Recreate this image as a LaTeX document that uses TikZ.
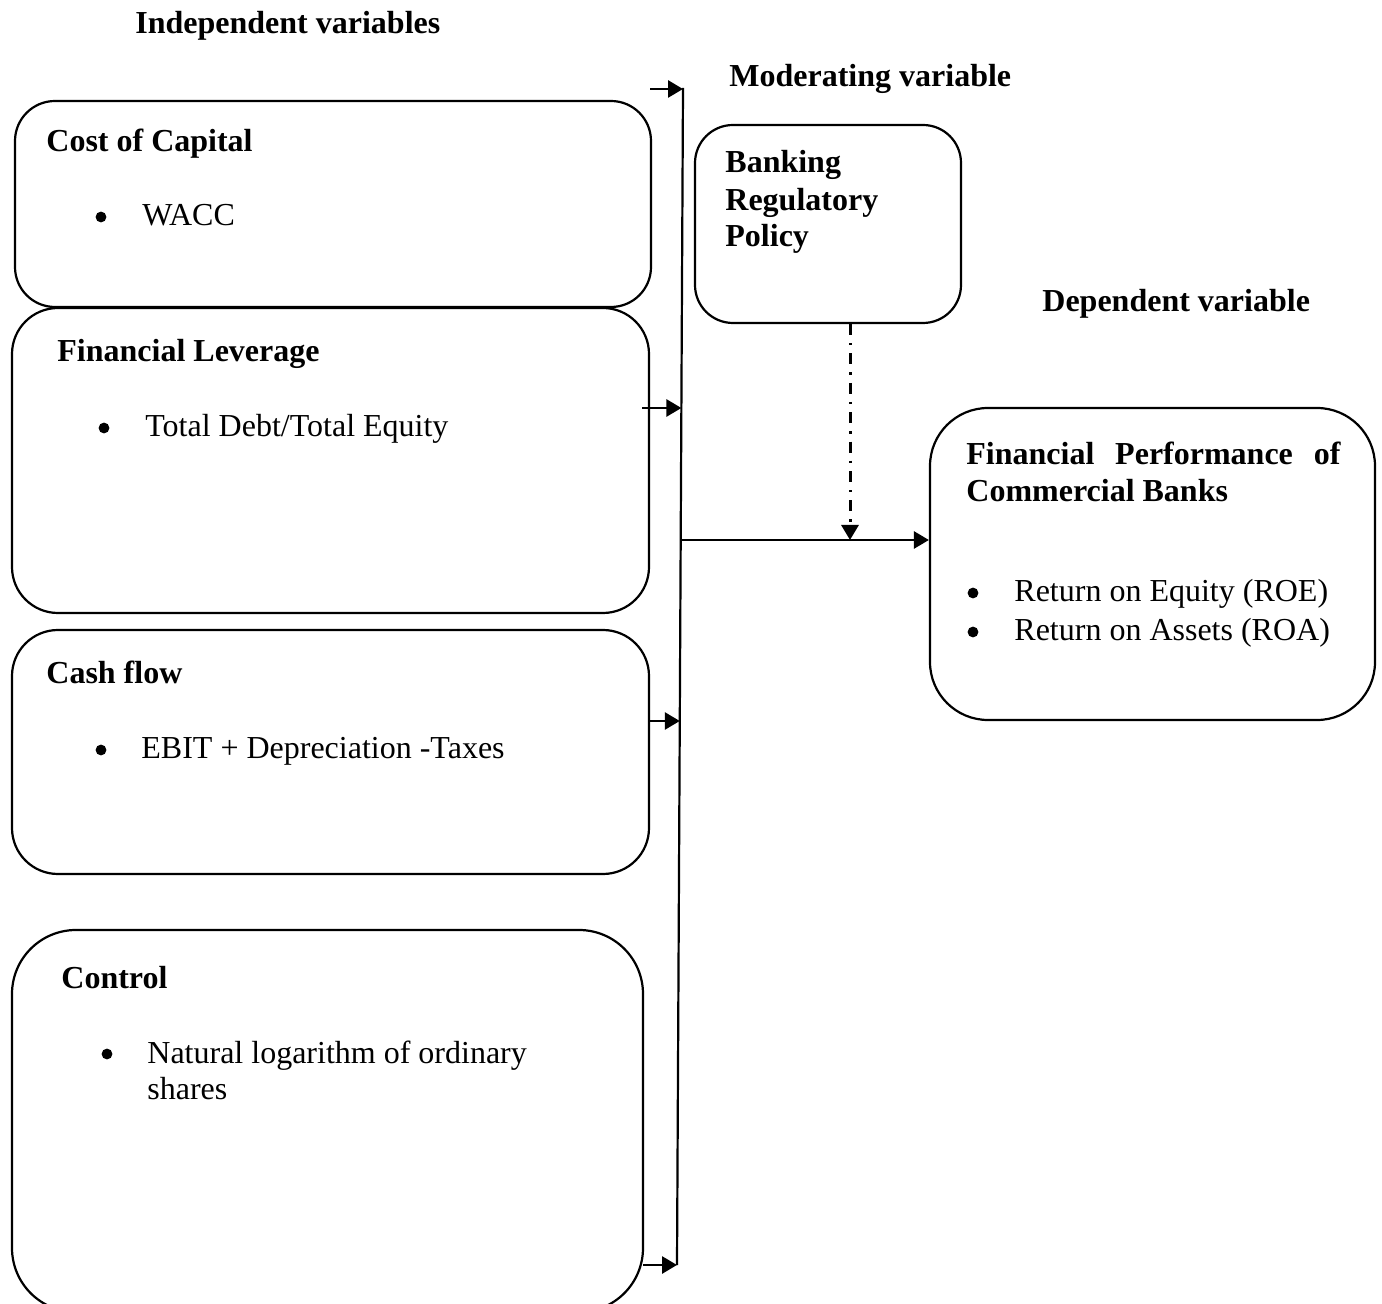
\documentclass[tikz,border=0pt]{standalone}
\usepackage{fontspec}
\setmainfont{Liberation Serif}
\usetikzlibrary{arrows.meta,fit,calc}
\begin{document}
\begin{tikzpicture}[x=0.5pt,y=-0.5pt,
 box/.style={draw,line width=1.1pt,inner sep=0pt,rounded corners=#1},
 box/.default=20pt,
 hd/.style={anchor=base west,font=\fontsize{16}{18.5}\selectfont\bfseries,inner sep=0pt},
 tx/.style={anchor=base west,font=\fontsize{16}{18.5}\selectfont,inner sep=0pt},
 bul/.style={circle,fill,inner sep=0pt,minimum size=5.4pt},
 arr/.style={line width=1.4pt,-{Triangle[length=7.5pt,width=8.5pt]}},
 barline/.style={line width=1.1pt},
 dashdot/.style={line width=1.5pt,dash pattern=on 5.5pt off 4pt on 1.2pt off 4pt,-{Triangle[length=7.5pt,width=8.5pt]}}]
\clip (0,0) rectangle (1382,1304);
% boxes
\node[box=20pt,fit={(15,101) (651,307)}] (cost) {};
\node[box=23pt,fit={(12,308) (649,613)}] (lev) {};
\node[box=23pt,fit={(12,630) (649,874)}] (cash) {};
\node[box=32pt,fit={(12,930) (643,1312)}] (ctrl) {};
\node[box=19pt,fit={(695,125) (961,323)}] (bank) {};
\node[box=29pt,fit={(930,408) (1375,720)}] (perf) {};
% headings
\node[hd] (h1) at (135,34) {Independent variables};
\node[hd] (h2) at (729,87) {Moderating variable};
\node[hd] (h3) at (1042,312) {Dependent variable};
% cost of capital
\node[hd] (t1) at (46,152) {Cost of Capital};
\node[bul] (b1) at (101,217) {};
\node[tx] (t1a) at (142,226) {WACC};
% leverage
\node[hd] (t2) at (57,362) {Financial Leverage};
\node[bul] (b2) at (104,428) {};
\node[tx] (t2a) at (145,437) {Total Debt/Total Equity};
% cash flow
\node[hd] (t3) at (46,684) {Cash flow};
\node[bul] (b3) at (101,750) {};
\node[tx] (t3a) at (141,759) {EBIT + Depreciation -Taxes};
% control
\node[hd] (t4) at (61,988) {Control};
\node[bul] (b4) at (107,1054) {};
\node[tx] (t4a) at (147,1063) {Natural logarithm of ordinary};
\node[tx] (t4b) at (147,1099) {shares};
% banking
\node[hd] (t5a) at (725,173) {Banking};
\node[hd] (t5b) at (725,211) {Regulatory};
\node[hd] (t5c) at (725,247) {Policy};
% performance
\node[hd,text width=187pt,align=justify,anchor=north west] (t6) at (966,442) {Financial Performance of\linebreak Commercial Banks};
\node[bul] (b6a) at (973,593) {};
\node[tx] (t6a) at (1014,602) {Return on Equity (ROE)};
\node[bul] (b6b) at (973,632) {};
\node[tx] (t6b) at (1014,641) {Return on Assets (ROA)};
% connector bar
\coordinate (barT) at (683,88);
\coordinate (barB) at (677,1265);
\draw[barline] (barT) -- (barB);
\coordinate (s1) at (650,89);
\coordinate (e1) at (683,89);
\coordinate (s2) at (642,408);
\coordinate (e2) at (681.4,408);
\coordinate (s3) at (648,721);
\coordinate (e3) at (679.8,721);
\coordinate (s4) at (643,1265);
\coordinate (e4) at (677,1265);
\coordinate (m) at (680.7,540);
\coordinate (dd) at (850,540);
\draw[arr] (s1) -- (e1);
\draw[arr] (s2) -- (e2);
\draw[arr] (s3) -- (e3);
\draw[arr] (s4) -- (e4);
\draw[arr] (m) -- (perf.west |- m);
\draw[dashdot] (bank.south -| dd) -- (dd);
\end{tikzpicture}
\end{document}
